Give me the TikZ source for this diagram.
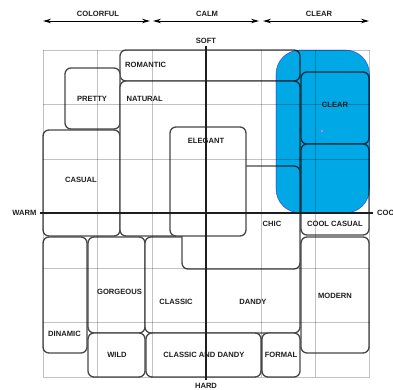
\documentclass[tikz,border=0pt]{standalone}
\usepackage{fontspec}
\setmainfont{Liberation Sans}
\usetikzlibrary{arrows.meta}
\definecolor{boxline}{HTML}{474747}
\definecolor{gridgray}{HTML}{C2C2C2}
\definecolor{skyblue}{HTML}{00A8E6}
\definecolor{edgeviolet}{HTML}{C77DF0}
\definecolor{axisdark}{HTML}{1E1E1E}
\begin{document}
\begin{tikzpicture}[x=1pt,y=-1pt,
  lbl/.style={font=\bfseries\fontsize{7.6}{8}\selectfont, inner sep=0pt, text=black!88},
  bx/.style={draw=boxline, line width=1.3pt, fill=white, rounded corners=6pt},
  gridline/.style={draw=gridgray, line width=0.9pt},
  axisline/.style={draw=axisdark, line width=1.6pt},
  toparrow/.style={draw=black, line width=1pt, {Stealth[length=8pt,width=4.5pt]}-{Stealth[length=8pt,width=4.5pt]}}]
\useasboundingbox (0,0) rectangle (393,389);

% boxes (drawing order matters: later boxes hide parts of earlier ones)
\draw[bx] (120,50) rectangle (300,81);   % romantic
\draw[bx] (65,68) rectangle (120,129);   % pretty
\draw[bx] (43,130) rectangle (120,236);  % casual
\draw[bx] (120,81) rectangle (300,236);  % natural
\draw[bx] (43,237) rectangle (87,353);   % dinamic
\draw[bx] (88,237) rectangle (145,333);  % gorgeous
\draw[bx] (88,333) rectangle (145,377);  % wild
\draw[bx] (145,237) rectangle (300,333); % classic / dandy
\draw[bx] (146,333) rectangle (261,377); % classic and dandy
\draw[bx] (262,333) rectangle (300,377); % formal
\draw[bx] (182,166) rectangle (300,269); % chic
\draw[bx] (170,127) rectangle (246,236); % elegant
\draw[bx] (301,72) rectangle (369,144);  % clear
\draw[bx] (301,144) rectangle (369,235); % cool casual
\draw[bx] (301,237) rectangle (369,353); % modern

% grid
\begin{scope}[blend mode=multiply]
\foreach \gx in {43,97.5,152,206.5,261,315,369.5}
  \draw[gridline] (\gx,50) -- (\gx,377);
\foreach \gy in {50,104.5,159,213.5,268,322.5,377}
  \draw[gridline] (43,\gy) -- (369.5,\gy);
\end{scope}

% blue highlight
\begin{scope}[blend mode=multiply]
\draw[fill=skyblue, draw=edgeviolet, line width=0.6pt, rounded corners=24pt] (276,50) rectangle (369.5,213);
\end{scope}
\fill[edgeviolet] (321,130) rectangle (323,132);

% axes
\coordinate (vtop) at (206,46);
\coordinate (vbot) at (206,380);
\coordinate (hleft) at (40,213);
\coordinate (hright) at (373,213);
\draw[axisline] (vtop) -- (vbot);
\draw[axisline] (hleft) -- (hright);

% top arrows
\coordinate (a1) at (43,21);
\coordinate (a2) at (150,21);
\coordinate (a3) at (153,21);
\coordinate (a4) at (259,21);
\coordinate (a5) at (263,21);
\coordinate (a6) at (369,21);
\draw[toparrow] (a1) -- (a2);
\draw[toparrow] (a3) -- (a4);
\draw[toparrow] (a5) -- (a6);
\node[lbl] (colorful) at (98,14) {COLORFUL};
\node[lbl] (calm) at (207,14) {CALM};
\node[lbl] (clearhead) at (319,14) {CLEAR};

% axis labels
\node[lbl] (soft) at (206,41) {SOFT};
\node[lbl] (hard) at (206,386) {HARD};
\node[lbl] (warm) at (24.5,213) {WARM};
\node[lbl, anchor=west] (cool) at (377,213) {COOL};

% box labels
\node[lbl, anchor=west] (romantic) at (125,65) {ROMANTIC};
\node[lbl] (pretty) at (92,99) {PRETTY};
\node[lbl, anchor=west] (natural) at (126.5,99) {NATURAL};
\node[lbl] (casual) at (81,180) {CASUAL};
\node[lbl] (elegant) at (206,141) {ELEGANT};
\node[lbl] (chic) at (272,224) {CHIC};
\node[lbl] (clear) at (335,105) {CLEAR};
\node[lbl] (coolcasual) at (335,224) {COOL CASUAL};
\node[lbl] (gorgeous) at (119.5,292) {GORGEOUS};
\node[lbl] (classic) at (176,302) {CLASSIC};
\node[lbl] (dandy) at (253,302) {DANDY};
\node[lbl] (modern) at (335,296) {MODERN};
\node[lbl] (dinamic) at (64.5,334) {DINAMIC};
\node[lbl] (wild) at (117,355) {WILD};
\node[lbl] (classicdandy) at (204,355) {CLASSIC AND DANDY};
\node[lbl] (formal) at (281,355) {FORMAL};
\end{tikzpicture}
\end{document}
